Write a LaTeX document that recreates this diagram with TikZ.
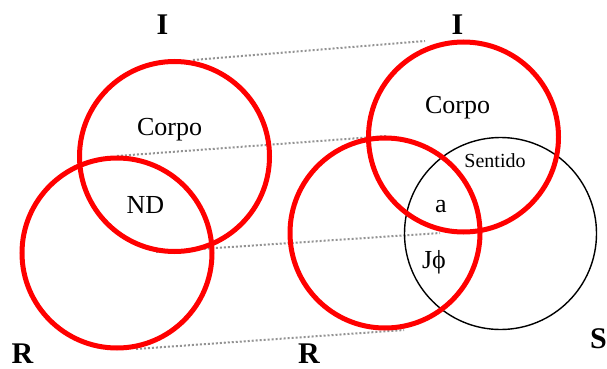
\documentclass[tikz,border=0pt]{standalone}
\usepackage{fontspec}
\setmainfont{Liberation Serif}
\begin{document}
\begin{tikzpicture}[x=1pt,y=-1pt,
  redring/.style={circle,draw=red,line width=5pt,inner sep=0pt,minimum size=190pt},
  blackring/.style={circle,draw=black,line width=1.4pt,inner sep=0pt,minimum size=192pt},
  link/.style={draw=gray!85,line width=2pt,dash pattern=on 2pt off 2pt},
  lab/.style={font=\rmfamily\fontsize{26}{30}\selectfont,anchor=base,inner sep=0pt},
  small/.style={font=\rmfamily\fontsize{20}{24}\selectfont,anchor=base,inner sep=0pt},
  big/.style={font=\rmfamily\fontsize{30}{34}\bfseries\selectfont,inner sep=0pt}]
\useasboundingbox (0,0) rectangle (607,369);
% connector end points
\coordinate (a1) at (193,60);
\coordinate (b1) at (425,41);
\coordinate (a2) at (117,156);
\coordinate (b2) at (387,136);
\coordinate (a3) at (156,252);
\coordinate (b3) at (440,233);
\coordinate (a4) at (136,349);
\coordinate (b4) at (404,330);
\draw[link] (a1) -- (b1);
\draw[link] (a2) -- (b2);
\draw[link] (a3) -- (b3);
\draw[link] (a4) -- (b4);
% circles
\node[blackring] (S) at (500.5,233.5) {};
\node[redring] (LI) at (174.5,156.5) {};
\node[redring] (LR) at (117,253) {};
\node[redring] (RR) at (385,233) {};
\node[redring] (RI) at (463.5,137) {};
% texts
\node[lab] (corpoL) at (169.5,135) {Corpo};
\node[lab] (nd) at (145.5,213) {ND};
\node[lab] (corpoR) at (457.5,113) {Corpo};
\node[small] (sent) at (495,167) {Sentido};
\node[lab] (aa) at (441,212) {a};
\node[lab] (jphi) at (434,268) {Jϕ};
\node[big] (IL) at (162.5,25) {I};
\node[big] (IR) at (457.5,25) {I};
\node[big] (RL) at (22.5,354) {R};
\node[big] (RRl) at (309,354) {R};
\node[big] (SS) at (598.5,339) {S};
\end{tikzpicture}
\end{document}
